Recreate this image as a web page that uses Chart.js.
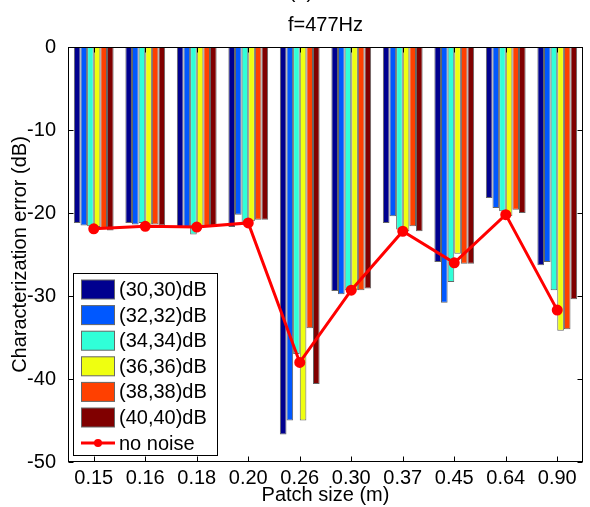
<!DOCTYPE html>
<html>
<head>
<meta charset="utf-8">
<script src="https://cdn.jsdelivr.net/npm/chart.js@4.4.1/dist/chart.umd.min.js"></script>
<style>
  body { margin: 0; background: #fff; }
  #wrap { width: 590px; height: 507px; }
</style>
</head>
<body>
<div id="wrap"><canvas id="grafica" width="590" height="507"></canvas></div>
<script>
// Datos
const categorias = ['0.15', '0.16', '0.18', '0.20', '0.26', '0.30', '0.37', '0.45', '0.64', '0.90'];
const etiquetasSerie = ['(30,30)dB', '(32,32)dB', '(34,34)dB', '(36,36)dB', '(38,38)dB', '(40,40)dB'];
const serie30 = [-21.2, -21.2, -21.8, -21.7, -46.7, -29.4, -21.2, -25.9, -18.2, -26.3];
const serie32 = [-21.5, -21.4, -21.8, -20.2, -45.0, -29.8, -20.4, -30.8, -19.4, -25.9];
const serie34 = [-21.6, -21.2, -22.6, -21.2, -37.0, -29.3, -22.0, -28.3, -19.8, -29.3];
const serie36 = [-21.7, -21.4, -21.8, -21.0, -45.0, -29.3, -22.2, -24.9, -20.4, -34.2];
const serie38 = [-21.9, -21.4, -21.7, -20.8, -33.9, -29.3, -21.6, -26.1, -19.6, -34.0];
const serie40 = [-22.1, -21.5, -21.7, -20.8, -40.6, -29.1, -22.2, -26.1, -20.0, -30.4];
const sinRuido = [-21.9, -21.6, -21.7, -21.2, -38.0, -29.3, -22.2, -26.0, -20.2, -31.7];
const yMin = -50, yMax = 0, yPaso = 10;
const titulo = 'f=477Hz';

const colores = ['#00008F', '#0058FF', '#30FFD8', '#EFFF10', '#FF4000', '#800000'];
const fuente = "'Liberation Sans', Arial, sans-serif";

const series = [serie30, serie32, serie34, serie36, serie38, serie40];
const datasets = series.map((s, i) => ({
    type: 'bar',
    label: etiquetasSerie[i],
    data: s,
    backgroundColor: colores[i],
    borderColor: '#666',
    borderWidth: 1,
    categoryPercentage: 0.772,
    barPercentage: 1.0,
    order: 2
}));
datasets.push({
    type: 'line',
    label: 'no noise',
    data: sinRuido,
    borderColor: '#FF0000',
    backgroundColor: '#FF0000',
    borderWidth: 3,
    pointRadius: 4,
    pointBackgroundColor: '#FF0000',
    pointBorderColor: '#FF0000',
    fill: false,
    tension: 0,
    order: 1
});

// Marco, marcas interiores, titulo y leyenda dentro del area
const marco = {
    id: 'marco',
    afterDatasetsDraw(chart) {
        const {ctx, chartArea: a, scales} = chart;
        ctx.save();
        ctx.strokeStyle = '#000';
        ctx.lineWidth = 1;
        const L = Math.round(a.left) + 0.5, R = Math.round(a.right) - 0.5;
        const T = Math.round(a.top) + 0.5, B = Math.round(a.bottom) - 0.5;
        ctx.beginPath();
        scales.y.ticks.forEach((t, i) => {
            const y = Math.round(scales.y.getPixelForTick(i)) + 0.5;
            ctx.moveTo(L, y); ctx.lineTo(L + 5, y);
            ctx.moveTo(R, y); ctx.lineTo(R - 5, y);
        });
        scales.x.ticks.forEach((t, i) => {
            const x = Math.round(scales.x.getPixelForTick(i)) + 0.5;
            ctx.moveTo(x, B); ctx.lineTo(x, B - 5);
            ctx.moveTo(x, T); ctx.lineTo(x, T + 5);
        });
        ctx.stroke();
        ctx.strokeRect(L, T, R - L, B - T);
        ctx.restore();
    },
    afterDraw(chart) {
        const {ctx, chartArea: a} = chart;
        ctx.save();
        ctx.fillStyle = '#000';
        ctx.font = '20px ' + fuente;
        ctx.textAlign = 'center';
        // texto cortado arriba
        ctx.textBaseline = 'alphabetic';
        ctx.fillText('(a)', 301, -2);
        // titulo
        ctx.textBaseline = 'middle';
        ctx.fillText(titulo, (a.left + a.right) / 2, 25);

        // leyenda
        const x0 = 73.5, y0 = 273.5, w = 144, h = 182;
        ctx.fillStyle = '#fff';
        ctx.fillRect(x0, y0, w, h);
        ctx.strokeStyle = '#000';
        ctx.lineWidth = 1;
        ctx.strokeRect(x0, y0, w, h);
        ctx.textAlign = 'left';
        ctx.textBaseline = 'middle';
        chart.data.datasets.forEach((ds, i) => {
            const cy = 289.5 + 25.6 * i;
            if (ds.type === 'bar') {
                ctx.fillStyle = ds.backgroundColor;
                ctx.fillRect(81, cy - 9.5, 34, 19);
                ctx.strokeStyle = '#666';
                ctx.strokeRect(81.5, cy - 9.5, 33, 19);
            } else {
                ctx.strokeStyle = ds.borderColor;
                ctx.lineWidth = 3;
                ctx.beginPath();
                ctx.moveTo(81, cy); ctx.lineTo(115, cy);
                ctx.stroke();
                ctx.fillStyle = ds.borderColor;
                ctx.beginPath();
                ctx.arc(98, cy, 4, 0, Math.PI * 2);
                ctx.fill();
                ctx.lineWidth = 1;
            }
            ctx.fillStyle = '#000';
            ctx.fillText(ds.label, 119, cy + 1);
        });
        ctx.restore();
    }
};

const ctx = document.getElementById('grafica').getContext('2d');
new Chart(ctx, {
    type: 'bar',
    data: { labels: categorias, datasets: datasets },
    options: {
        responsive: false,
        animation: false,
        layout: { padding: { top: 47, right: 1, bottom: 0, left: 0 } },
        plugins: {
            legend: { display: false },
            tooltip: { enabled: false },
            title: { display: false }
        },
        scales: {
            x: {
                grid: { display: false },
                border: { display: false },
                ticks: { color: '#000', padding: -4, maxRotation: 0, font: { family: fuente, size: 20 } },
                title: {
                    display: true,
                    text: 'Patch size (m)',
                    color: '#000',
                    font: { family: fuente, size: 20 },
                    padding: { top: 0, bottom: 0 }
                },
                afterFit: (s) => { s.height = 45; }
            },
            y: {
                min: yMin,
                max: yMax,
                grid: { display: false },
                border: { display: false },
                ticks: { stepSize: yPaso, color: '#000', padding: 4, font: { family: fuente, size: 20 } },
                title: {
                    display: true,
                    text: 'Characterization error (dB)',
                    color: '#000',
                    font: { family: fuente, size: 20 },
                    padding: { top: 8, bottom: 0 }
                },
                afterFit: (s) => { s.width = 68; }
            }
        }
    },
    plugins: [marco]
});
</script>
</body>
</html>
